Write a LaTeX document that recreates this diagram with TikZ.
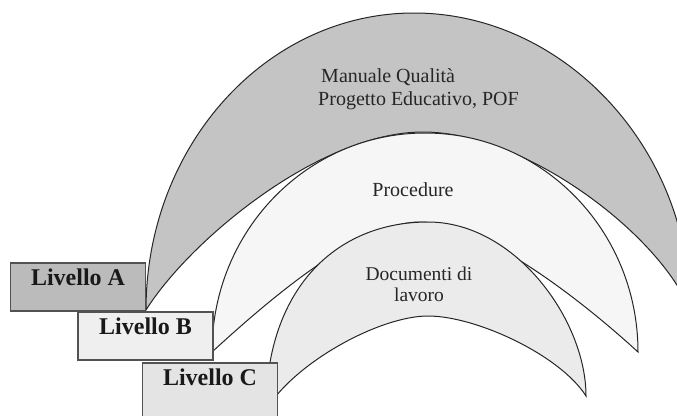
\documentclass[tikz,border=0pt]{standalone}
\usepackage{fontspec}
\setmainfont{Liberation Serif}
\usepackage{tikz}
\usetikzlibrary{ positioning, % For easy node-relative placements
               }

\definecolor{tonoA}{gray}{0.77}
\definecolor{tonoB}{gray}{0.965}
\definecolor{tonoC}{gray}{0.92}
\definecolor{bordo}{gray}{0.15}

\tikzset{
  lune/.style={draw=bordo, line width=1pt},
  livello/.style={draw=bordo!80, line width=1.3pt, minimum width=135pt,
                  inner xsep=0pt, inner ysep=6pt, text height=16pt, text depth=20pt,
                  font=\fontsize{24}{28}\selectfont\bfseries, text=black!90},
  scritta/.style={inner sep=0pt, text=black!85},
}

\begin{document}
\begin{tikzpicture}[x=1pt, y=-1pt] % pixel-like coordinates, y going down
  \useasboundingbox (0,0) rectangle (677,415);
  \clip (0,0) rectangle (677,415);

  \coordinate (aleft) at (146,310);
  \coordinate (aright) at (690,310);
  \coordinate (bleft) at (212,352);
  \coordinate (bright) at (638,352);
  \coordinate (cleft) at (266,410);
  \coordinate (cright) at (586,396);

  \filldraw[lune, fill=tonoA] (aleft) .. controls (146,146) and (266,13) .. (414,13)
    .. controls (562,13) and (690,146) .. (aright)
    .. controls (660,235) and (526,132) .. (423,132)
    .. controls (320,132) and (190,240) .. (aleft) -- cycle;
  \filldraw[lune, fill=tonoB] (bleft) .. controls (212,231) and (307,133) .. (425,133)
    .. controls (543,133) and (638,231) .. (bright)
    .. controls (578,297) and (480,222) .. (420,222)
    .. controls (360,222) and (272,297) .. (bleft) -- cycle;
  \filldraw[lune, fill=tonoC] (cleft) .. controls (266,290) and (335,222) .. (428,222)
    .. controls (515,222) and (586,320) .. (cright)
    .. controls (560,355) and (476,316) .. (428,316)
    .. controls (380,316) and (295,362) .. (cleft) -- cycle;

  \node[scritta, align=left, font=\fontsize{20}{23}\selectfont] (manuale) at (418.5,89.7)
    {\hspace*{3pt}Manuale Qualità\\Progetto Educativo, POF};
  \node[scritta, anchor=base, font=\fontsize{20}{23}\selectfont] (procedure) at (413,196) {Procedure};
  \node[scritta, align=center, font=\fontsize{19.5}{21}\selectfont] (documenti) at (419,284.8)
    {Documenti di\\lavoro};

  \node[livello, fill=tonoA!95!black] (livA) at (78,287) {Livello A};
  \node[livello, fill=tonoB!97!black] (livB) at (145.5,336) {Livello B};
  \node[livello, fill=tonoC!97!black, text depth=27pt] (livC) at (210,390.5) {Livello C};
\end{tikzpicture}
\end{document}
